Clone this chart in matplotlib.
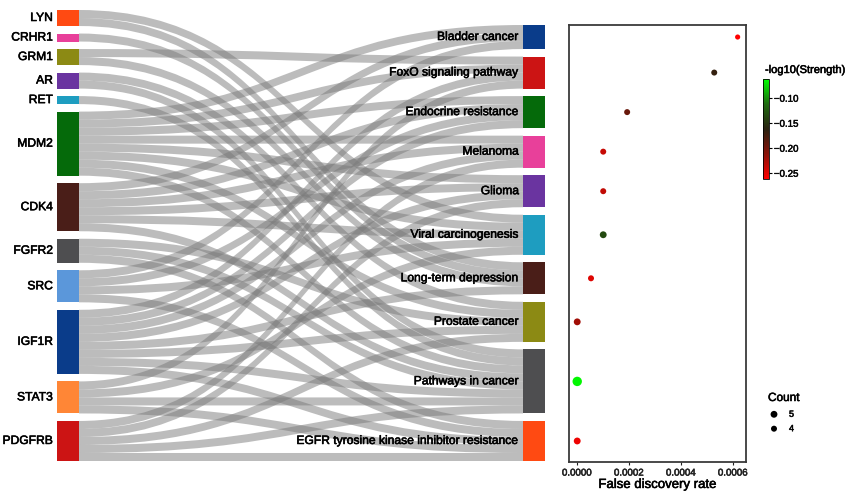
import numpy as np
import matplotlib
matplotlib.use('Agg')
import matplotlib.pyplot as plt
from matplotlib.path import Path
from matplotlib.patches import PathPatch, Rectangle
from matplotlib.colors import LinearSegmentedColormap, Normalize
from matplotlib.colorbar import ColorbarBase
import matplotlib.ticker as mticker
import matplotlib.patheffects as pe

plt.rcParams['font.family'] = ['Liberation Sans', 'DejaVu Sans']
BOLDISH = [pe.withStroke(linewidth=0.4, foreground='black')]
BOLDISH_G = [pe.withStroke(linewidth=0.4, foreground='#222222')]

# ---------------- data ----------------
genes = ["LYN", "CRHR1", "GRM1", "AR", "RET", "MDM2", "CDK4", "FGFR2",
         "SRC", "IGF1R", "STAT3", "PDGFRB"]
gene_colors = ["#FF4A12", "#E8409A", "#8C8A14", "#6A34A0", "#1E9DC0",
               "#056A0A", "#4A1E18", "#4E4E50", "#5B97DA", "#0A3C8A",
               "#FF8636", "#CC1414"]

pathways = ["Bladder cancer", "FoxO signaling pathway", "Endocrine resistance",
            "Melanoma", "Glioma", "Viral carcinogenesis", "Long-term depression",
            "Prostate cancer", "Pathways in cancer",
            "EGFR tyrosine kinase inhibitor resistance"]
pathway_colors = ["#0A3C8A", "#CC1414", "#056A0A", "#E8409A", "#6A34A0",
                  "#1E9DC0", "#4A1E18", "#8C8A14", "#4E4E50", "#FF4A12"]

link_gene = (["LYN"] * 2 + ["CRHR1"] + ["GRM1"] * 2 + ["AR"] * 2 + ["RET"]
             + ["MDM2"] * 8 + ["CDK4"] * 6 + ["FGFR2"] * 3 + ["SRC"] * 4
             + ["IGF1R"] * 8 + ["STAT3"] * 4 + ["PDGFRB"] * 5)
link_pathway = [
    "Viral carcinogenesis", "Long-term depression",
    "Long-term depression",
    "FoxO signaling pathway", "Long-term depression",
    "Prostate cancer", "Pathways in cancer",
    "Pathways in cancer",
    "Bladder cancer", "FoxO signaling pathway", "Endocrine resistance", "Melanoma",
    "Glioma", "Viral carcinogenesis", "Prostate cancer", "Pathways in cancer",
    "Bladder cancer", "Endocrine resistance", "Melanoma", "Glioma",
    "Viral carcinogenesis", "Pathways in cancer",
    "Prostate cancer", "Pathways in cancer", "EGFR tyrosine kinase inhibitor resistance",
    "Bladder cancer", "Endocrine resistance", "Viral carcinogenesis",
    "EGFR tyrosine kinase inhibitor resistance",
    "FoxO signaling pathway", "Endocrine resistance", "Melanoma", "Glioma",
    "Long-term depression", "Prostate cancer", "Pathways in cancer",
    "EGFR tyrosine kinase inhibitor resistance",
    "FoxO signaling pathway", "Viral carcinogenesis", "Pathways in cancer",
    "EGFR tyrosine kinase inhibitor resistance",
    "Melanoma", "Glioma", "Prostate cancer", "Pathways in cancer",
    "EGFR tyrosine kinase inhibitor resistance",
]

fdr = [0.000619, 0.000529, 0.000194, 0.000102, 0.000102, 0.000102,
       0.000055, 0.000002, 0.000002, 0.000002]
neg_log_strength = [-0.262, -0.168, -0.195, -0.238, -0.236, -0.135,
                    -0.248, -0.222, -0.066, -0.255]
count = [3, 4, 4, 4, 4, 5, 4, 5, 8, 5]

legend_counts = [5, 4]
fdr_ticks = [0.0, 0.0002, 0.0004, 0.0006]
cbar_ticks = [-0.10, -0.15, -0.20, -0.25]
cbar_range = (-0.2626, -0.0626)

# ---------------- layout ----------------
W, H = 858, 495
fig = plt.figure(figsize=(W / 100, H / 100), dpi=100)

GAP = 0.9375
n_left = [link_gene.count(g) for g in genes]
n_right = [link_pathway.count(p) for p in pathways]
total = sum(n_left)
Ltot = total + GAP * (len(genes) - 1)
Rtot = total + GAP * (len(pathways) - 1)

left_top = []
y = Ltot
for n in n_left:
    left_top.append(y)
    y -= n + GAP
right_top = []
y = Rtot
for n in n_right:
    right_top.append(y)
    y -= n + GAP

PX_TOP, PX_BOT = 10, 461
ppu = (PX_BOT - PX_TOP) / Ltot

ax = fig.add_axes([0, (H - PX_BOT) / H, 560 / W, (PX_BOT - PX_TOP) / H])
ax.set_xlim(0, 560)
ax.set_ylim(0, Ltot)
ax.axis('off')

XL0, XL1 = 57, 79
XR0, XR1 = 523, 545

gi = {g: i for i, g in enumerate(genes)}
pi = {p: i for i, p in enumerate(pathways)}
links = list(zip(link_gene, link_pathway))

src_slot = {}
for g in genes:
    ls = sorted([l for l in links if l[0] == g], key=lambda l: pi[l[1]])
    for k, l in enumerate(ls):
        src_slot[l] = left_top[gi[g]] - k
tgt_slot = {}
for p in pathways:
    ls = sorted([l for l in links if l[1] == p], key=lambda l: gi[l[0]])
    for k, l in enumerate(ls):
        tgt_slot[l] = right_top[pi[p]] - k

xm = (XL1 + XR0) / 2
for l in links:
    s_top = src_slot[l]
    t_top = tgt_slot[l]
    s_bot, t_bot = s_top - 1, t_top - 1
    verts = [(XL1, s_top), (xm, s_top), (xm, t_top), (XR0, t_top),
             (XR0, t_bot), (xm, t_bot), (xm, s_bot), (XL1, s_bot), (XL1, s_top)]
    codes = [Path.MOVETO, Path.CURVE4, Path.CURVE4, Path.CURVE4,
             Path.LINETO, Path.CURVE4, Path.CURVE4, Path.CURVE4, Path.CLOSEPOLY]
    ax.add_patch(PathPatch(Path(verts, codes), facecolor='#7a7a7a', alpha=0.5,
                           edgecolor='none', lw=0))

for i, g in enumerate(genes):
    ax.add_patch(Rectangle((XL0, left_top[i] - n_left[i]), XL1 - XL0, n_left[i],
                           facecolor=gene_colors[i], edgecolor='none'))
    ax.text(XL0 - 4, left_top[i] - n_left[i] / 2, g, ha='right', va='center',
            fontsize=8.7, color='black', path_effects=BOLDISH)
for i, p in enumerate(pathways):
    ax.add_patch(Rectangle((XR0, right_top[i] - n_right[i]), XR1 - XR0, n_right[i],
                           facecolor=pathway_colors[i], edgecolor='none'))
    ax.text(XR0 - 4, right_top[i] - n_right[i] / 2, p, ha='right', va='center',
            fontsize=8.7, color='black', path_effects=BOLDISH)

# ---------------- dot plot ----------------
cmap = LinearSegmentedColormap.from_list(
    'rg', [(0.0, '#FF0000'), (0.25, '#8A1208'), (0.5, '#2A2210'),
           (0.75, '#1F6A10'), (1.0, '#00FF00')])
norm = Normalize(*cbar_range)

def py(p):
    return (PX_BOT - p) / ppu

DX0, DX1, DY0, DY1 = 569, 746, 25, 462
dax = fig.add_axes([DX0 / W, (H - DY1) / H, (DX1 - DX0) / W, (DY1 - DY0) / H])
dax.set_ylim(py(DY1), py(DY0))
x0px = 576.7
pxu = 52 / 0.0002
dax.set_xlim((DX0 - x0px) / pxu, (DX1 - x0px) / pxu)

def size_of(c):
    d = 2.6 + 0.85 * np.asarray(c, float)
    return (d * 0.72) ** 2

ycent = [right_top[i] - n_right[i] / 2 for i in range(len(pathways))]
dax.scatter(fdr, ycent, s=size_of(count), c=neg_log_strength, cmap=cmap, norm=norm,
            edgecolors='none', zorder=3)
dax.set_yticks([])
dax.set_xticks(fdr_ticks)
dax.xaxis.set_major_formatter(mticker.FormatStrFormatter('%.4f'))
dax.tick_params(axis='x', length=2.5, width=0.8, pad=1.5, labelsize=7, colors='#222222')
for lab in dax.get_xticklabels():
    lab.set_path_effects(BOLDISH_G)
for sp in dax.spines.values():
    sp.set_linewidth(1.3)
    sp.set_color('#3a3a3a')
dax.set_xlabel('False discovery rate', fontsize=9.5, labelpad=1, path_effects=BOLDISH)

# colorbar
cax = fig.add_axes([763 / W, (H - 179) / H, 6 / W, 100 / H])
cb = ColorbarBase(cax, cmap=cmap, norm=norm, orientation='vertical')
cb.set_ticks(cbar_ticks)
cb.ax.yaxis.set_major_formatter(mticker.FuncFormatter(lambda v, p: f'\u2212{abs(v):.2f}'))
cb.ax.tick_params(length=2, width=0.8, labelsize=7, pad=1.5)
for lab in cb.ax.get_yticklabels():
    lab.set_path_effects(BOLDISH_G)
cb.outline.set_linewidth(0.6)
fig.text(765 / W, 1 - 70 / H, '-log10(Strength)', fontsize=8, ha='left', va='center',
         path_effects=BOLDISH)

# count legend
ov = fig.add_axes([0, 0, 1, 1], facecolor='none')
ov.set_xlim(0, W)
ov.set_ylim(H, 0)
ov.axis('off')
fig.text(768 / W, 1 - 398 / H, 'Count', fontsize=8.5, ha='left', va='center',
         path_effects=BOLDISH)
for k, c in enumerate(legend_counts):
    yy = 414.3 + k * 14.4
    ov.scatter([774], [yy], s=size_of([c]), color='black', edgecolors='none')
    ov.text(789, yy, str(c), fontsize=6.5, ha='left', va='center', path_effects=BOLDISH_G)

fig.savefig('out.png', dpi=100)
